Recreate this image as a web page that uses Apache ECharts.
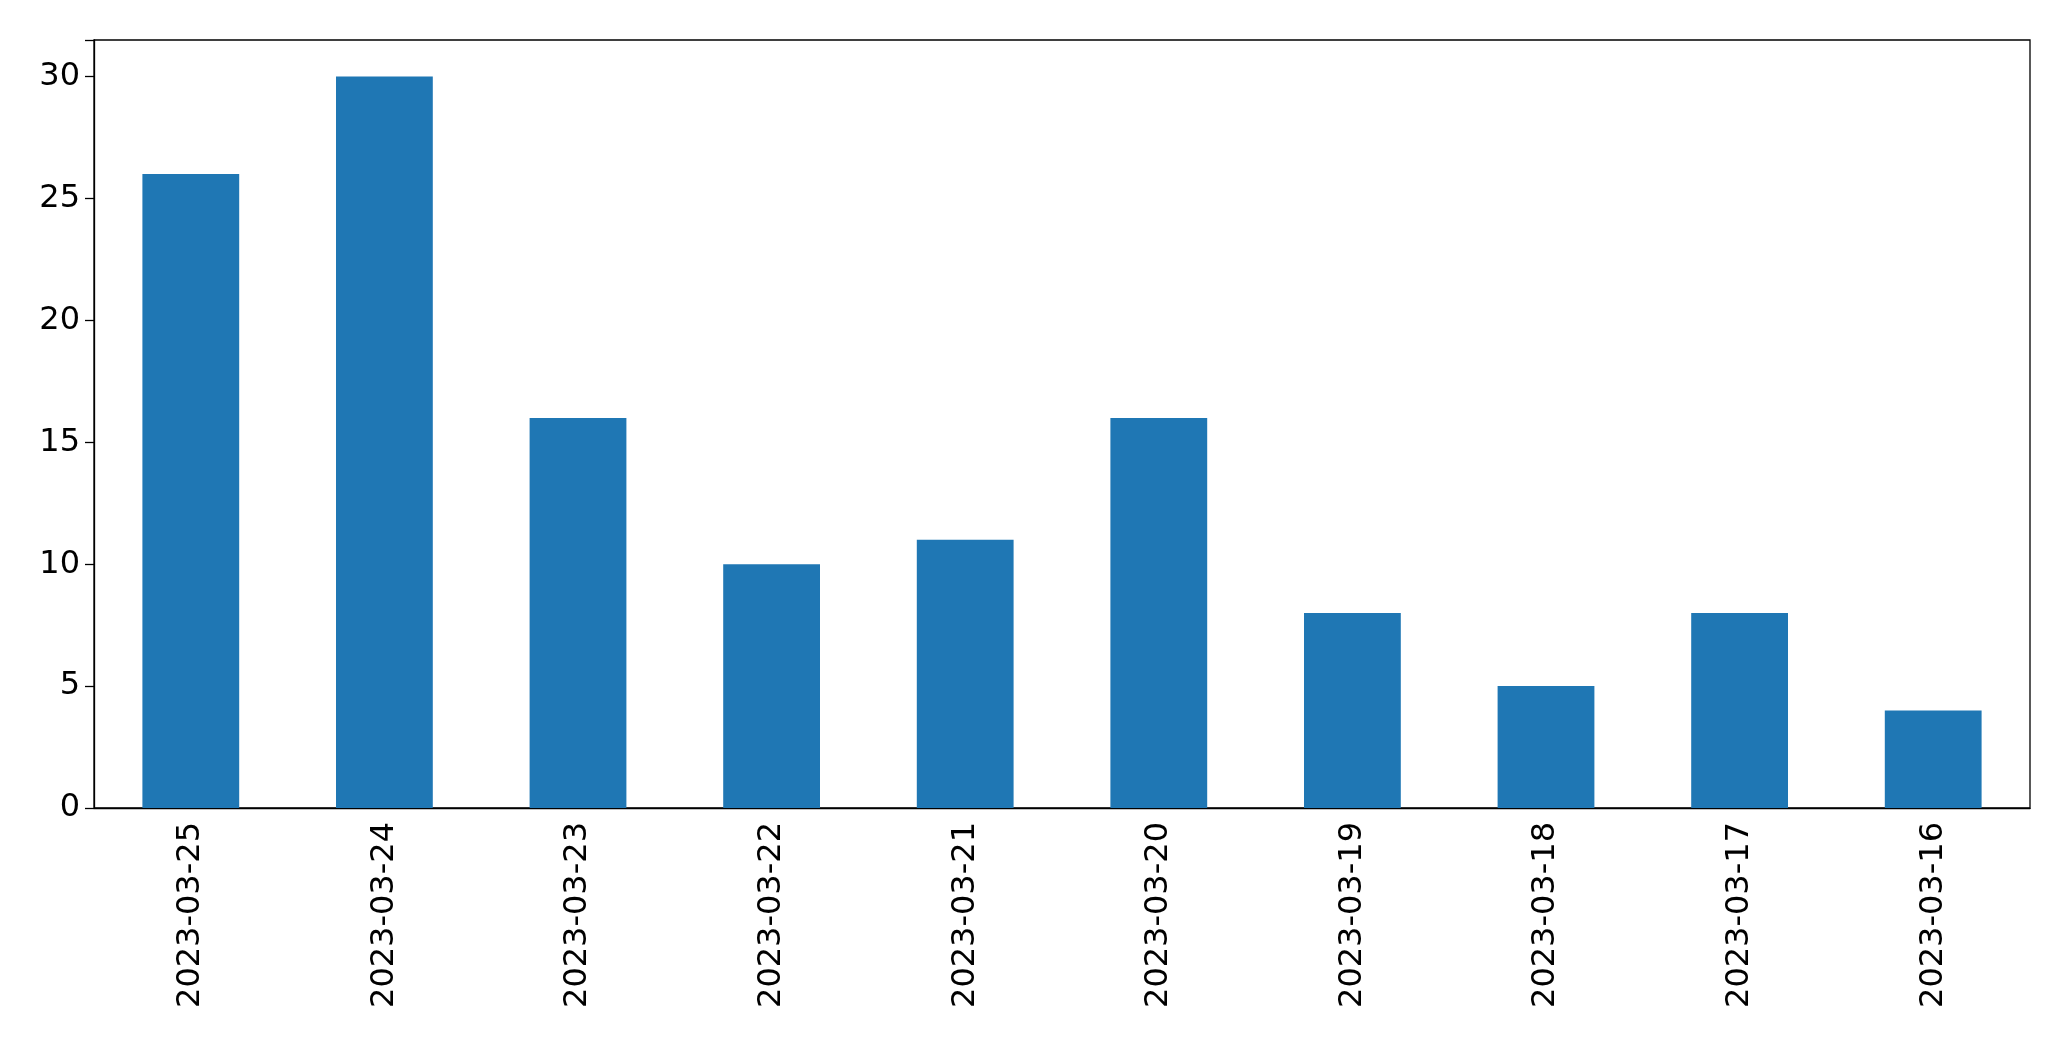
<!DOCTYPE html>
<html>
<head>
<meta charset="UTF-8">
<script src="https://cdn.jsdelivr.net/npm/echarts@6/dist/echarts.min.js"></script>
<style>html,body{margin:0;padding:0;background:#fff;}</style>
</head>
<body>
<div id="chart" style="width:2071px;height:1061px;"></div>
<script>
// 数据
const dates = ['2023-03-25','2023-03-24','2023-03-23','2023-03-22','2023-03-21','2023-03-20','2023-03-19','2023-03-18','2023-03-17','2023-03-16'];
const counts = [26, 30, 16, 10, 11, 16, 8, 5, 8, 4];

const chart = echarts.init(document.getElementById('chart'));
chart.setOption({
    animation: false,
    grid: { left: 94, right: 41, top: 40, bottom: 253, show: true, borderColor: '#000', borderWidth: 1.3 },
    xAxis: {
        type: 'category',
        data: dates,
        axisLine: { lineStyle: { color: '#000', width: 1.3 } },
        axisTick: { alignWithLabel: true, length: 9, lineStyle: { color: '#000', width: 1.3 } },
        axisLabel: { rotate: 90, color: '#000', fontSize: 32, fontFamily: 'DejaVu Sans', margin: 14 }
    },
    yAxis: {
        type: 'value',
        min: 0, max: 31.5, interval: 5,
        splitLine: { show: false },
        axisLine: { show: true, lineStyle: { color: '#000', width: 1.3 } },
        axisTick: { show: true, length: 9, lineStyle: { color: '#000', width: 1.3 } },
        axisLabel: { color: '#000', fontSize: 32, fontFamily: 'DejaVu Sans', margin: 14,
            formatter: v => (v % 5 === 0 ? v : '') }
    },
    series: [{
        type: 'bar',
        data: counts,
        barCategoryGap: '50%',
        itemStyle: { color: '#1f77b4' }
    }]
});
</script>
</body>
</html>
